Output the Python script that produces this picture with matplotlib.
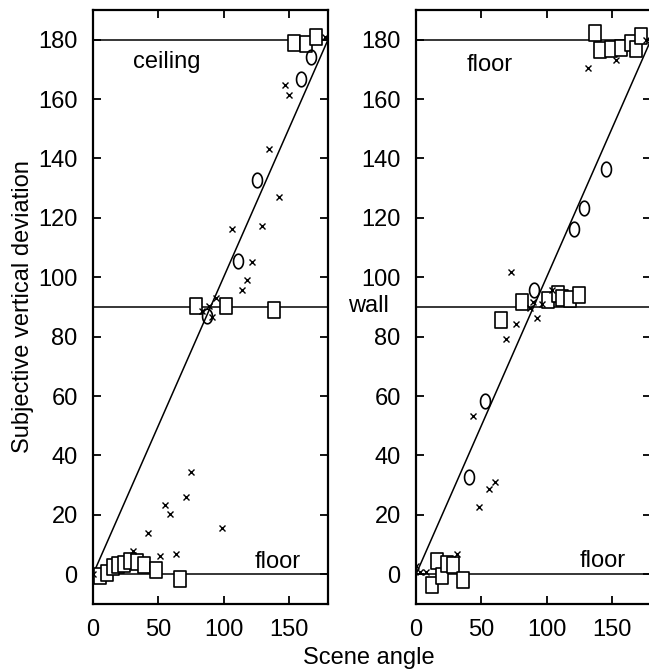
import numpy as np
import matplotlib
matplotlib.use('Agg')
import matplotlib.pyplot as plt
from matplotlib.path import Path

plt.rcParams['font.family'] = ['Liberation Sans', 'DejaVu Sans']

# ---- data (scene angle, subjective vertical) ----
# left panel (ceiling / floor)
left_sq_x = [5, 11, 15.5, 19.5, 24, 28, 34, 39, 48, 67, 79, 102, 139, 154, 163, 170.5]
left_sq_y = [-0.5, 0.5, 2.5, 3, 3.5, 4.5, 4, 3, 1.5, -1.5, 90.2, 90.2, 89, 179, 178.4, 181]
left_o_x = [87, 110.7, 126, 159.7, 166.8]
left_o_y = [87, 105.4, 132.8, 166.6, 174.2]
left_x_x = [0, 30.5, 42, 51.5, 55, 59, 63.7, 71.3, 75.2, 98.8, 83.5, 88.6, 91.2, 94.2,
            106.4, 114.5, 118.3, 122.1, 129.7, 134.8, 142.4, 146.7, 150.5, 177.5]
left_x_y = [0, 8, 14, 6, 23.5, 20.2, 7, 26, 34.5, 15.5, 88.6, 90.5, 86.6, 93.1,
            116.1, 95.6, 99.2, 105.2, 117.2, 143.2, 126.9, 164.9, 161.3, 181]

# right panel (wall / floor)
right_sq_x = [12, 16, 19.7, 24, 28, 36.2, 64.8, 81, 100.8, 108.4, 112.2, 117.8, 124.5,
              137, 140.8, 149, 157.4, 165, 168.3, 172.7]
right_sq_y = [-3.7, 4.5, -0.7, 3.3, 3, -2, 85.7, 91.6, 92.2, 94.5, 93, 92.8, 93.9,
              182.3, 176.7, 177, 177.2, 179, 177, 181.4]
right_o_x = [40.8, 52.5, 90.3, 120.9, 128.5, 145.9]
right_o_y = [32.8, 58.5, 95.8, 116.2, 123.5, 136.5]
right_x_x = [0, 3, 7.4, 31.3, 43.9, 48.2, 56.1, 60.4, 68.6, 72.4, 76.5, 87, 89.7, 92.3,
             96.2, 104.3, 131.8, 153, 176.5]
right_x_y = [2.7, 0.7, 0.7, 6.8, 53.4, 22.7, 28.6, 31.1, 79.1, 101.7, 84.3, 89.5, 91.6,
             86.4, 91.1, 95.8, 170.5, 173.1, 180]

ref_levels = [0, 90, 180]
y_ticks = list(range(0, 181, 20))
x_ticks = [0, 50, 100, 150]

# tall rectangle and tall ellipse markers (like the original print)
rect = Path([(-0.35, -0.5), (0.35, -0.5), (0.35, 0.5), (-0.35, 0.5), (-0.35, -0.5)],
            [Path.MOVETO, Path.LINETO, Path.LINETO, Path.LINETO, Path.CLOSEPOLY])
t = np.linspace(0, 2 * np.pi, 60)
ellipse = Path(np.column_stack([0.34 * np.cos(t), 0.5 * np.sin(t)]))

fig = plt.figure(figsize=(6.49, 6.70), dpi=100)
ax1 = fig.add_axes([93 / 649, 66 / 670, 235 / 649, 594 / 670])
ax2 = fig.add_axes([416 / 649, 66 / 670, 235 / 649, 594 / 670])


def draw_panel(ax, sq_x, sq_y, o_x, o_y, x_x, x_y):
    ax.plot([0, 180], [0, 180], color='black', lw=1.1, zorder=1)
    for lev in ref_levels:
        ax.axhline(lev, color='black', lw=1.1, zorder=1)
    ax.plot(sq_x, sq_y, ls='none', marker=rect, ms=12, mfc='white', mec='black',
            mew=1.2, zorder=3)
    ax.plot(o_x, o_y, ls='none', marker=ellipse, ms=10.5, mfc='none', mec='black',
            mew=1.2, zorder=3)
    ax.plot(x_x, x_y, ls='none', marker='x', ms=4.5, mec='black', mew=1.0, zorder=4)
    ax.set_xlim(0, 180)
    ax.set_ylim(-10, 190)
    ax.set_xticks(x_ticks)
    ax.set_yticks(y_ticks)
    ax.tick_params(direction='in', length=6, width=1.3, top=True, right=True,
                   labelsize=17, pad=11)
    for sp in ax.spines.values():
        sp.set_linewidth(1.6)


draw_panel(ax1, left_sq_x, left_sq_y, left_o_x, left_o_y, left_x_x, left_x_y)
draw_panel(ax2, right_sq_x, right_sq_y, right_o_x, right_o_y, right_x_x, right_x_y)

ax1.text(30.5, 172.6, 'ceiling', fontsize=17, va='center', ha='left')
ax1.text(124, 4, 'floor', fontsize=17, va='center', ha='left')
ax2.text(38.8, 171.6, 'floor', fontsize=17, va='center', ha='left')
ax2.text(125.5, 4.4, 'floor', fontsize=17, va='center', ha='left')
ax2.text(-20.5, 90.5, 'wall', fontsize=17, va='center', ha='right', clip_on=False)

ax1.set_ylabel('Subjective vertical deviation', fontsize=17, labelpad=3)
fig.text(369 / 649, 1 - 658 / 670, 'Scene angle', fontsize=17, ha='center', va='center')

fig.savefig('out.png', dpi=100)
